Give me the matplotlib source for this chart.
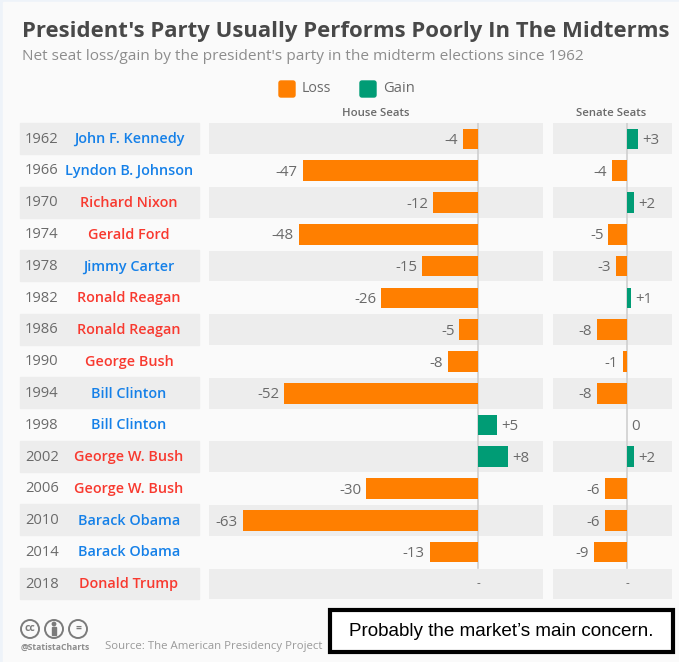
#!/usr/bin/env python3
"""Midterm seat changes for the president's party, House and Senate panels."""

import matplotlib

matplotlib.use("Agg")
import matplotlib.pyplot as plt
from matplotlib.patches import Circle, FancyBboxPatch, Rectangle

YEARS = [1962, 1966, 1970, 1974, 1978, 1982, 1986, 1990, 1994, 1998, 2002, 2006, 2010, 2014, 2018]
PRESIDENTS = [
    "John F. Kennedy", "Lyndon B. Johnson", "Richard Nixon", "Gerald Ford", "Jimmy Carter",
    "Ronald Reagan", "Ronald Reagan", "George Bush", "Bill Clinton", "Bill Clinton",
    "George W. Bush", "George W. Bush", "Barack Obama", "Barack Obama", "Donald Trump",
]
PARTIES = ["D", "D", "R", "R", "D", "R", "R", "R", "D", "D", "R", "R", "D", "D", "R"]
HOUSE_SEATS = [-4, -47, -12, -48, -15, -26, -5, -8, -52, 5, 8, -30, -63, -13, None]
SENATE_SEATS = [3, -4, 2, -5, -3, 1, -8, -1, -8, 0, 2, -6, -6, -9, None]

WIDTH, HEIGHT = 679, 662
ORANGE = "#ff7f00"
GREEN = "#009c75"
BLUE = "#1580e8"
RED = "#f8392f"
BAND = "#ededed"
PAGE = "#fafafa"
LABEL = "#6a6a6a"
PITCH = 31.79
TOP = 123
FONT = "Open Sans"

plt.rcParams["font.family"] = [FONT, "DejaVu Sans"]


def panel_axes(fig, left, right):
    ax = fig.add_axes([left / WIDTH, 1 - (TOP + 15 * PITCH) / HEIGHT, (right - left) / WIDTH, 15 * PITCH / HEIGHT])
    ax.patch.set_alpha(0)
    ax.axis("off")
    return ax


def draw_panel(ax, values, xlim):
    ax.set_xlim(*xlim)
    ax.set_ylim(14.5, -0.5)
    for i, value in enumerate(values):
        if i % 2 == 0:
            ax.barh(i, xlim[1] - xlim[0], left=xlim[0], height=0.97, color=BAND, zorder=1)
    ax.plot([0, 0], [-0.5, 13.5], color="#cfcfcf", linewidth=1.2, zorder=2)
    for i, value in enumerate(values):
        if value is None:
            ax.annotate("-", (0, i), ha="center", va="center", fontsize=8.5, color=LABEL, zorder=4)
            continue
        if value != 0:
            ax.barh(i, value, height=0.65, color=ORANGE if value < 0 else GREEN, zorder=3)
        text = f"+{value}" if value > 0 else str(value)
        side = -1 if value < 0 else 1
        pad = 3.6 if value < 0 else 3.0
        ax.annotate(text, (value, i), xytext=(side * pad, -1.2), textcoords="offset points",
                    ha="right" if value < 0 else "left", va="center", fontsize=10.8, color=LABEL, zorder=4)


fig = plt.figure(figsize=(WIDTH / 100, HEIGHT / 100), dpi=100, facecolor="white")

# page furniture lives in pixel coordinates
bg = fig.add_axes([0, 0, 1, 1])
bg.set_xlim(0, WIDTH)
bg.set_ylim(HEIGHT, 0)
bg.axis("off")
bg.add_patch(Rectangle((0, 0), WIDTH, HEIGHT, color="#eef3f9", zorder=0))
bg.add_patch(Rectangle((3, 2), WIDTH, HEIGHT, color=PAGE, zorder=0.5))

bg.text(21.5, 31, "President's Party Usually Performs Poorly In The Midterms", fontsize=15.97,
        fontweight="bold", color="#484848", ha="left", va="center")
bg.text(21.5, 56, "Net seat loss/gain by the president's party in the midterm elections since 1962",
        fontsize=11.07, color="#8d8d8d", ha="left", va="center")

# legend
bg.add_patch(FancyBboxPatch((279, 81), 16, 16, boxstyle="round,pad=0,rounding_size=2", color=ORANGE))
bg.text(302, 89, "Loss", fontsize=10.3, color=LABEL, ha="left", va="center")
bg.add_patch(FancyBboxPatch((360, 81), 16, 16, boxstyle="round,pad=0,rounding_size=2", color=GREEN))
bg.text(383, 89, "Gain", fontsize=10.6, color=LABEL, ha="left", va="center")

bg.text(376, 113, "House Seats", fontsize=8.2, fontweight="semibold", color=LABEL, ha="center", va="center")
bg.text(611.5, 113, "Senate Seats", fontsize=8.2, fontweight="semibold", color=LABEL, ha="center", va="center")

# year and president column
for i, (year, name, party) in enumerate(zip(YEARS, PRESIDENTS, PARTIES)):
    y = TOP + PITCH * i
    if i % 2 == 0:
        bg.add_patch(Rectangle((20, y), 178.5, 31, color=BAND, zorder=1))
    bg.text(42, y + 16.2, str(year), fontsize=10.6, color=LABEL, ha="center", va="center", zorder=2)
    bg.text(129, y + 16.2, name, fontsize=10.4, fontweight="semibold", color=BLUE if party == "D" else RED,
            ha="center", va="center", zorder=2)

house_ax = panel_axes(fig, 209, 543)
draw_panel(house_ax, HOUSE_SEATS, (-72.1, 17.4))
senate_ax = panel_axes(fig, 553, 672)
draw_panel(senate_ax, SENATE_SEATS, (-20.0, 12.2))

# footer
for cx, glyph in zip([30, 54, 78], ["cc", "", "="]):
    bg.add_patch(Circle((cx, 629), 9, fill=False, edgecolor="#7b7b7b", linewidth=1.4))
    if glyph:
        bg.text(cx, 628.5, glyph, fontsize=7.5, fontweight="bold", color="#7b7b7b", ha="center", va="center")
bg.add_patch(Circle((54, 624), 1.7, color="#7b7b7b"))
bg.add_patch(Rectangle((52, 626.5), 4, 8, color="#7b7b7b"))
bg.text(21, 647, "@StatistaCharts", fontsize=6.2, fontweight="bold", color="#8d8d8d", ha="left", va="center")
bg.text(105, 646, "Source: The American Presidency Project", fontsize=8.22, color="#9a9a9a", ha="left", va="center")

# pasted annotation box
bg.add_patch(Rectangle((330, 610), 343, 42, facecolor="white", edgecolor="black", linewidth=3, zorder=5))
bg.text(501.5, 631, "Probably the market\u2019s main concern.", family="Liberation Sans", fontsize=13.55,
        color="black", ha="center", va="center", zorder=6)

fig.savefig("out.png", dpi=100)
plt.close(fig)
